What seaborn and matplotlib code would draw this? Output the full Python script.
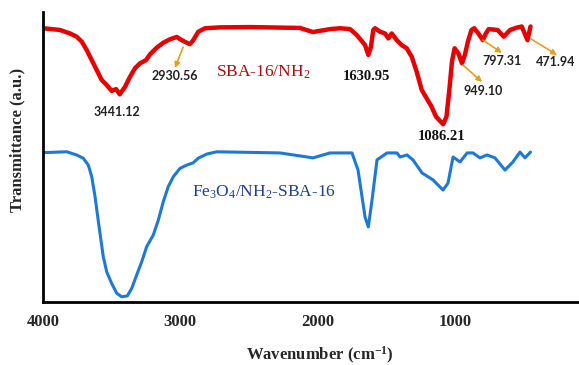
import numpy as np
import pandas as pd
import matplotlib
matplotlib.use("Agg")
import matplotlib.pyplot as plt
import seaborn as sns

# FT-IR spectrum of SBA-16/NH2 (wavenumber in cm-1, transmittance in a.u.)
sba_wavenumber = [4000, 3876, 3803, 3755, 3718, 3682, 3645, 3609, 3573, 3536, 3500,
                  3468, 3441, 3403, 3366, 3330, 3294, 3250, 3221, 3172, 3124, 3075,
                  3026, 2990, 2931, 2910, 2869, 2820, 2711, 2493, 2129, 2034, 1910,
                  1837, 1764, 1716, 1655, 1631, 1612, 1595, 1582, 1546, 1510, 1485,
                  1461, 1424, 1388, 1352, 1315, 1279, 1242, 1206, 1170, 1138, 1086,
                  1062, 1040, 1022, 1003, 976, 949, 928, 906, 880, 860, 830, 797,
                  775, 755, 690, 645, 599, 551, 514, 472, 450]
sba_transmittance = [94.4, 93.8, 92.6, 91.5, 89.8, 86.9, 83.4, 80.0, 76.6, 74.8, 72.8,
                     73.4, 71.6, 74.2, 77.7, 80.6, 82.3, 83.4, 85.4, 87.7, 89.4, 90.6,
                     91.4, 90.3, 88.9, 90.0, 93.2, 94.4, 94.7, 94.8, 94.5, 93.1, 94.1,
                     94.4, 94.1, 92.1, 88.6, 85.2, 88.0, 93.8, 94.4, 93.2, 92.6, 90.9,
                     92.6, 90.3, 88.6, 87.5, 84.6, 79.4, 73.1, 70.2, 67.3, 63.9, 61.3,
                     63.9, 73.7, 82.9, 87.5, 85.8, 82.3, 85.2, 89.8, 93.8, 94.4, 92.6,
                     90.3, 92.6, 94.1, 93.8, 91.5, 93.8, 94.6, 95.0, 90.3, 95.0]

# FT-IR spectrum of Fe3O4/NH2-SBA-16
fe_wavenumber = [4000, 3827, 3755, 3707, 3670, 3645, 3621, 3605, 3585, 3561, 3536,
                 3500, 3463, 3427, 3386, 3354, 3318, 3281, 3245, 3197, 3160, 3124,
                 3088, 3051, 3002, 2954, 2906, 2869, 2808, 2735, 2274, 2034, 1910,
                 1750, 1706, 1655, 1631, 1604, 1568, 1495, 1422, 1400, 1349, 1306,
                 1240, 1160, 1087, 1051, 1014, 963, 912, 869, 818, 767, 709, 636,
                 578, 527, 490, 450]
fe_transmittance = [51.5, 51.8, 50.7, 49.6, 47.2, 43.2, 36.3, 30.6, 23.7, 15.6, 10.4,
                    6.4, 3.0, 1.8, 2.1, 4.7, 9.3, 13.9, 19.1, 23.1, 28.3, 34.6,
                    39.8, 43.2, 46.1, 47.2, 48.0, 49.6, 51.0, 51.8, 51.4, 49.7, 51.4,
                    51.4, 45.5, 29.3, 25.9, 35.2, 49.0, 51.4, 51.4, 50.0, 50.7, 49.0,
                    44.5, 42.1, 38.6, 41.0, 50.0, 48.3, 51.4, 51.4, 49.7, 50.7, 49.7,
                    45.5, 48.3, 51.7, 49.7, 51.7]

# Labelled band positions on the SBA-16/NH2 curve
peak_labels = ["3441.12", "2930.56", "1630.95", "1086.21", "949.10", "797.31", "471.94"]
x_ticks = [4000, 3000, 2000, 1000]

sns.set_style("white")
plt.rcParams["font.family"] = ["Liberation Serif", "DejaVu Serif"]
plt.rcParams["mathtext.fontset"] = "custom"
plt.rcParams["mathtext.rm"] = "Liberation Serif"
plt.rcParams["mathtext.default"] = "regular"

fig = plt.figure(figsize=(5.79, 3.65), dpi=100)
ax = fig.add_axes([43 / 579, 63 / 365, 536 / 579, 290 / 365])

sba = pd.DataFrame({"w": sba_wavenumber, "t": sba_transmittance})
fe = pd.DataFrame({"w": fe_wavenumber, "t": fe_transmittance})

sns.lineplot(data=sba, x="w", y="t", sort=False, ax=ax, color="#E60000",
             linewidth=3.2, solid_joinstyle="round", solid_capstyle="round")
sns.lineplot(data=fe, x="w", y="t", sort=False, ax=ax, color="#1E78D8",
             linewidth=2.2, solid_joinstyle="round", solid_capstyle="round")

ax.set_xlim(4000, 97)
ax.set_ylim(0, 100)
ax.set_xticks(x_ticks)
ax.set_xticklabels([str(t) for t in x_ticks], fontweight="bold", fontsize=12)
ax.set_yticks([])
ax.tick_params(axis="x", length=0, pad=9)

for side in ("top", "right"):
    ax.spines[side].set_visible(False)
for side in ("left", "bottom"):
    ax.spines[side].set_color("black")
    ax.spines[side].set_linewidth(2.0)

ax.set_xlabel("Wavenumber (cm$^{-1}$)", fontweight="bold", fontsize=12, va="center")
ax.xaxis.set_label_coords(0.517, -0.186)
ax.set_ylabel("Transmittance (a.u.)", fontweight="bold", fontsize=12, va="center")
ax.yaxis.set_label_coords(-0.047, 0.56)

sans_bold = dict(family=["Lato", "DejaVu Sans"], fontweight="bold", fontsize=9,
                 color="#222222", ha="center", va="center")
serif_bold = dict(fontweight="bold", fontsize=10.5, color="#111111",
                  ha="center", va="center")
arrow = dict(arrowstyle="-|>", color="#E0A020", lw=1.2, mutation_scale=8,
             shrinkA=0, shrinkB=0)

ax.text(3461, 65.5, peak_labels[0], **sans_bold)
ax.text(3039, 77.9, peak_labels[1], **sans_bold)
ax.annotate("", xy=(3039, 80.7), xytext=(2980, 87.9), arrowprops=arrow)
ax.text(1641, 77.9, peak_labels[2], **serif_bold)
ax.text(1094, 56.9, peak_labels[3], **serif_bold)
ax.text(796, 72.8, peak_labels[4], **sans_bold)
ax.annotate("", xy=(803, 75.9), xytext=(942, 81.7), arrowprops=arrow)
ax.text(658, 83.1, peak_labels[5], **sans_bold)
ax.annotate("", xy=(658, 85.9), xytext=(796, 90.3), arrowprops=arrow)
ax.text(264, 82.8, peak_labels[6], **sans_bold)
ax.annotate("", xy=(257, 85.2), xytext=(446, 90.7), arrowprops=arrow)

ax.text(2398, 79.3, "SBA-16/NH$_2$", color="#A01010", fontsize=12.5,
        ha="center", va="center")
ax.text(2391, 37.9, "Fe$_3$O$_4$/NH$_2$-SBA-16", color="#1F3F8F", fontsize=12.5,
        ha="center", va="center")

fig.savefig("out.png", dpi=100, facecolor="white")
